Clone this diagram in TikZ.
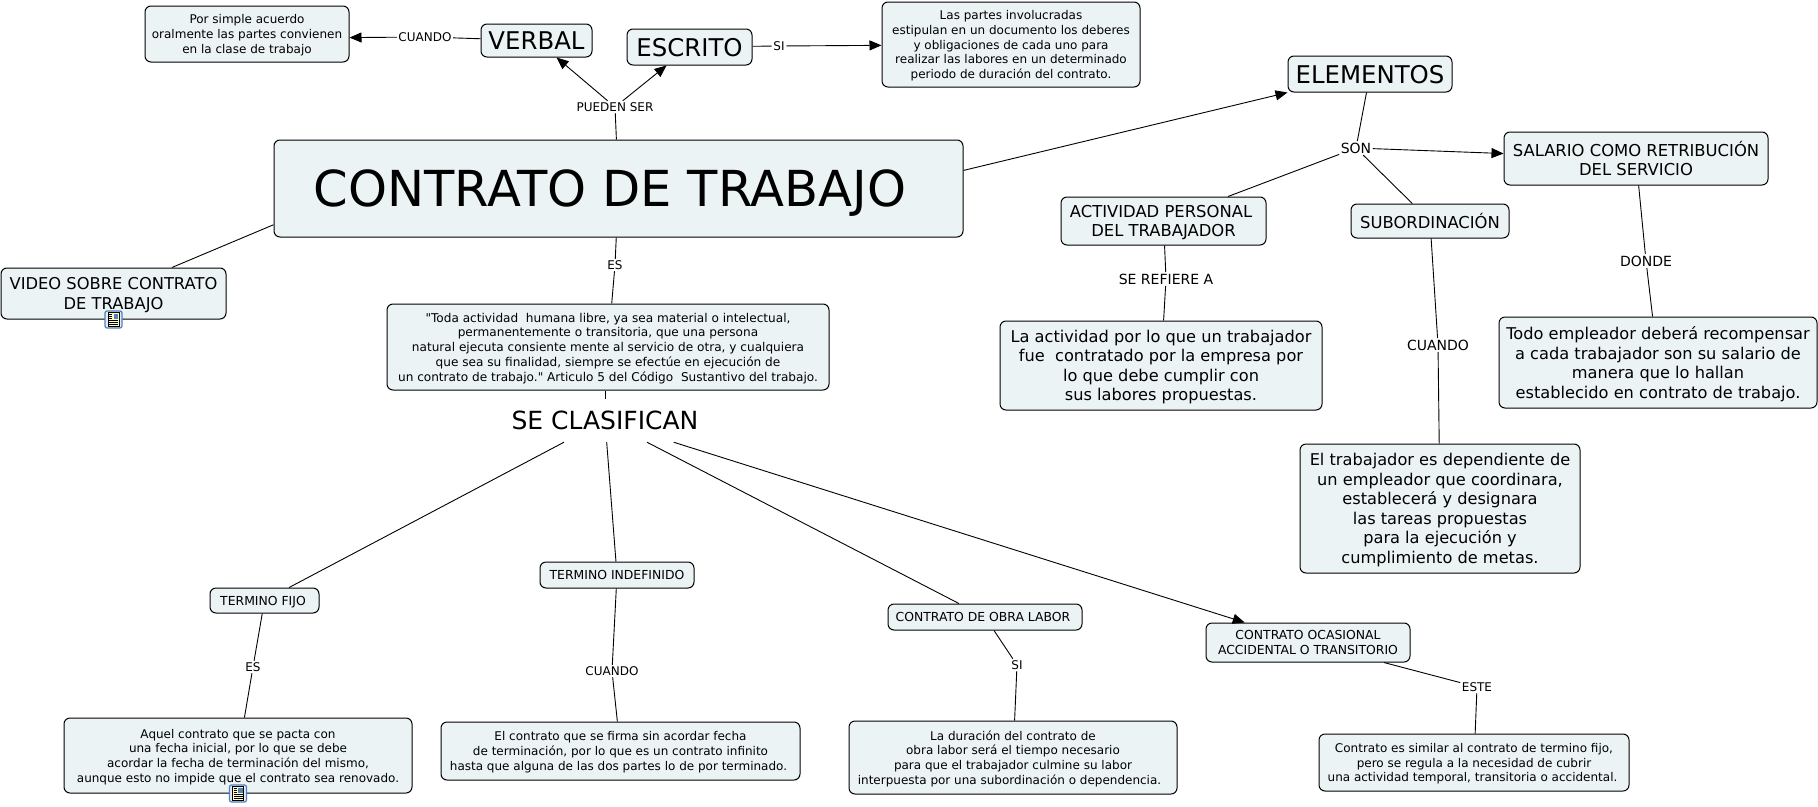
\documentclass[tikz,border=0pt]{standalone}
\usepackage{fontspec}
\setmainfont{DejaVu Sans}
\newfontfamily\recta{DejaVu Sans}
\usepackage{xcolor}
\usetikzlibrary{arrows.meta, positioning}
\definecolor{fondo}{HTML}{ECF3F5}
\definecolor{marco}{HTML}{4F81BD}

\begin{document}
\begin{tikzpicture}[
                  x=1pt, y=-1pt,
                  caja/.style     = {draw=black, fill=fondo, rounded corners=6pt, line width=1pt, inner sep=0pt, align=center, text depth=0pt},
                  chico/.style    = {caja, font=\fontsize{12}{14.7}\selectfont},
                  chicomay/.style = {caja, font=\fontsize{12.4}{14.7}\selectfont},
                  medio/.style    = {caja, font=\fontsize{16.2}{19.5}\selectfont},
                  mediomay/.style = {caja, font=\fontsize{16.4}{19.5}\selectfont},
                  grande/.style   = {caja, font=\fontsize{24.4}{29}\selectfont},
                  enlace/.style   = {inner sep=1.5pt, font=\fontsize{12}{14.7}\selectfont},
                  enlacem/.style  = {inner sep=1.5pt, font=\fontsize{14}{17}\selectfont},
                  linea/.style    = {line width=0.9pt},
                  flecha/.style   = {linea, -{Triangle[length=12pt, width=10pt]}},
                  icono/.pic = {
                        \draw[draw=marco, fill=marco!15, rounded corners=2pt, line width=1.2pt] (-8.5,-8.5) rectangle (8.5,8.5);
                        \draw[fill=yellow!20, line width=0.7pt] (-5.5,-7) rectangle (5.5,7);
                        \fill[marco] (0,-6) rectangle (4.5,-1);
                        \foreach \yy in {1,3,5} \draw[line width=0.7pt] (-4.5,\yy) -- (4.5,\yy);
                        \foreach \yy in {-5,-3,-1} \draw[line width=0.7pt] (-4.5,\yy) -- (-1.5,\yy);
                  }
            ]
            \useasboundingbox (0,0) rectangle (1818,806);
            \fill[white] (0,0) rectangle (1818,806);

            % concepto central y parte superior
            \node[caja, font=\fontsize{49.6}{58}\selectfont, minimum width=689pt, minimum height=97pt] (contrato) at (618.5,188.5) {CONTRATO DE TRABAJO\rule{17pt}{0pt}};
            \node[grande, minimum width=111pt, minimum height=33pt] (verbal) at (536.5,40.5) {VERBAL};
            \node[grande, minimum width=125pt, minimum height=36pt] (escrito) at (689.5,47) {ESCRITO};
            \node[chico, minimum width=204pt, minimum height=56pt] (acuerdo) at (247,34) {Por simple acuerdo\\oralmente las partes convienen\\en la clase de trabajo};
            \node[chico, minimum width=258pt, minimum height=85pt] (partes) at (1011,44.5) {Las partes involucradas\\estipulan en un documento los deberes\\y obligaciones de cada uno para\\realizar las labores en un determinado\\periodo de duración del contrato.};
            \node[mediomay, font=\fontsize{16.3}{19.5}\selectfont, minimum width=225pt, minimum height=51pt] (video) at (113.5,293.5) {VIDEO SOBRE CONTRATO\\DE TRABAJO};
            \node[chico, font=\fontsize{12.1}{14.7}\selectfont, minimum width=442pt, minimum height=86pt] (toda) at (608,347) {{\recta\char34}Toda actividad\ \ humana libre, ya sea material o intelectual,\\permanentemente o transitoria, que una persona\\natural ejecuta consiente mente al servicio de otra, y cualquiera\\que sea su finalidad, siempre se efectúe en ejecución de\\un contrato de trabajo.{\recta\char34} Articulo 5 del Código\ \ Sustantivo del trabajo.};
            \node[font=\fontsize{25}{30}\selectfont, minimum height=43pt, inner sep=0pt] (clasifican) at (605,420.5) {SE CLASIFICAN};

            % elementos
            \node[grande, minimum width=164pt, minimum height=36pt] (elementos) at (1370,74) {ELEMENTOS};
            \node[mediomay, minimum width=205pt, minimum height=48pt] (actividad) at (1163.5,221) {ACTIVIDAD PERSONAL\rule{5pt}{0pt}\\DEL TRABAJADOR};
            \node[mediomay, minimum width=158pt, minimum height=34pt] (subordinacion) at (1430,221) {SUBORDINACIÓN};
            \node[mediomay, minimum width=264pt, minimum height=53pt] (salario) at (1636,158.5) {SALARIO COMO RETRIBUCIÓN\\DEL SERVICIO};
            \node[medio, minimum width=322pt, minimum height=89pt] (labores) at (1161,365.5) {La actividad por lo que un trabajador\\fue\ \ contratado por la empresa por\\lo que debe cumplir con\\sus labores propuestas.};
            \node[medio, minimum width=318pt, minimum height=91pt] (empleador) at (1658,362.5) {Todo empleador deberá recompensar\\a cada trabajador son su salario de\\manera que lo hallan\\establecido en contrato de trabajo.};
            \node[medio, minimum width=280pt, minimum height=129pt] (dependiente) at (1440,508.5) {El trabajador es dependiente de\\un empleador que coordinara,\\establecerá y designara\\las tareas propuestas\\para la ejecución y\\cumplimiento de metas.};

            % tipos de contrato
            \node[chicomay, minimum width=109pt, minimum height=25pt] (fijo) at (264.5,600.5) {TERMINO FIJO\rule{3pt}{0pt}};
            \node[chicomay, minimum width=154pt, minimum height=26pt] (indefinido) at (617,575) {TERMINO INDEFINIDO};
            \node[chicomay, minimum width=194pt, minimum height=26pt] (obra) at (985,617) {CONTRATO DE OBRA LABOR\rule{4pt}{0pt}};
            \node[chicomay, minimum width=204pt, minimum height=39pt] (ocasional) at (1308,642.5) {CONTRATO OCASIONAL\\ACCIDENTAL O TRANSITORIO};
            \node[chico, minimum width=348pt, minimum height=75pt] (pacta) at (238,755.5) {Aquel contrato que se pacta con\\una fecha inicial, por lo que se debe\\acordar la fecha de terminación del mismo,\\aunque esto no impide que el contrato sea renovado.};
            \node[chico, minimum width=359pt, minimum height=58pt] (firma) at (620.5,751) {El contrato que se firma sin acordar fecha\\de terminación, por lo que es un contrato infinito\\hasta que alguna de las dos partes lo de por terminado.\rule{4pt}{0pt}};
            \node[chico, minimum width=328pt, minimum height=73pt] (duracion) at (1013,757.5) {La duración del contrato de\\obra labor será el tiempo necesario\\para que el trabajador culmine su labor\\interpuesta por una subordinación o dependencia.\rule{7pt}{0pt}};
            \node[chico, minimum width=310pt, minimum height=57pt] (similar) at (1474,762.5) {Contrato es similar al contrato de termino fijo,\\pero se regula a la necesidad de cubrir\\una actividad temporal, transitoria o accidental.\rule{3pt}{0pt}};

            % frases de enlace
            \node[enlace] (puedenser) at (615,107) {PUEDEN SER};
            \node[enlace] (cuandoverbal) at (425,37) {CUANDO};
            \node[enlace] (siescrito) at (779,46) {SI};
            \node[enlace] (es) at (615,265) {ES};
            \node[enlacem] (son) at (1356,148) {SON};
            \node[enlacem] (serefiere) at (1166,279) {SE REFIERE A};
            \node[enlacem] (cuandosub) at (1438,345) {CUANDO};
            \node[enlacem] (donde) at (1646,261) {DONDE};
            \node[enlace] (esfijo) at (253,667) {ES};
            \node[enlace] (cuandoind) at (612,671) {CUANDO};
            \node[enlace] (siobra) at (1017,665) {SI};
            \node[enlace] (este) at (1477,687) {ESTE};

            % conexiones
            \draw[linea] (contrato) -- (puedenser);
            \draw[flecha] (puedenser) -- (verbal);
            \draw[flecha] (puedenser) -- (escrito);
            \draw[linea] (verbal) -- (cuandoverbal);
            \draw[flecha] (cuandoverbal) -- (acuerdo.-2);
            \draw[linea] (escrito) -- (siescrito);
            \draw[flecha] (siescrito) -- (partes);
            \draw[linea] (contrato.186) -- (video.24);
            \draw[flecha] (contrato.3) -- (elementos.south west);
            \draw[linea] (contrato) -- (es);
            \draw[linea] (es) -- (toda);
            \draw[linea] (toda.south -| clasifican.north) -- (clasifican.north);

            \draw[linea] (elementos) -- (son);
            \draw[linea] (son) -- (actividad);
            \draw[linea] (son) -- (subordinacion);
            \draw[flecha] (son) -- (salario);
            \draw[linea] (actividad) -- (serefiere);
            \draw[linea] (serefiere) -- (labores);
            \draw[linea] (subordinacion) -- (cuandosub);
            \draw[linea] (cuandosub) -- (dependiente);
            \draw[linea] (salario) -- (donde);
            \draw[linea] (donde) -- (empleador);

            \draw[linea] (clasifican) -- (fijo);
            \draw[linea] (clasifican) -- (indefinido);
            \draw[linea] (clasifican) -- (obra);
            \draw[flecha] (clasifican) -- (ocasional);
            \draw[linea] (fijo) -- (esfijo);
            \draw[linea] (esfijo) -- (pacta);
            \draw[linea] (indefinido) -- (cuandoind);
            \draw[linea] (cuandoind) -- (firma);
            \draw[linea] (obra) -- (siobra);
            \draw[linea] (siobra) -- (duracion);
            \draw[linea] (ocasional) -- (este);
            \draw[linea] (este) -- (similar);

            \pic at (video.south) {icono};
            \pic at (pacta.south) {icono};
\end{tikzpicture}
\end{document}
